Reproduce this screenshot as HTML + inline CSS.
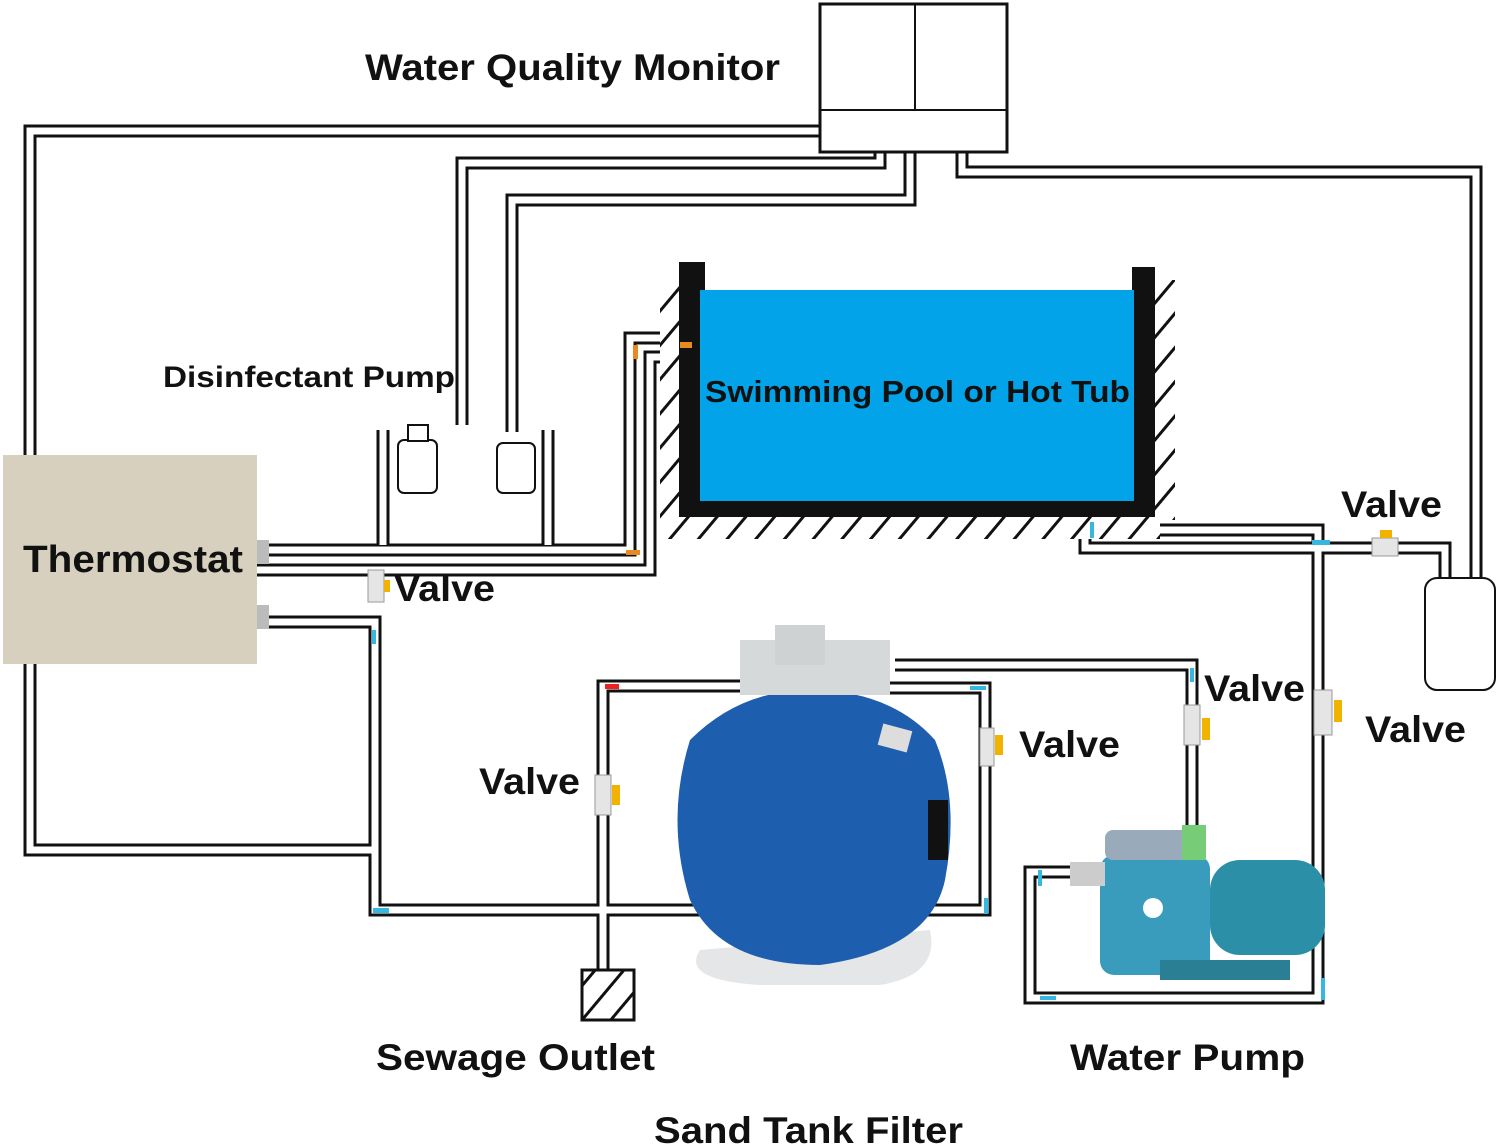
<!DOCTYPE html>
<html><head><meta charset="utf-8"><style>
html,body{margin:0;padding:0;background:#fff;}
svg{display:block}
text{font-family:"Liberation Sans",Arial,sans-serif;font-weight:bold;fill:#111}
</style></head><body>
<svg width="1499" height="1147" viewBox="0 0 1499 1147" xmlns="http://www.w3.org/2000/svg">
<defs>
<pattern id="h" width="22" height="22" patternUnits="userSpaceOnUse" patternTransform="rotate(40)">
<rect width="22" height="22" fill="#fff"/><rect width="3" height="22" fill="#111"/></pattern>
</defs>
<g fill="none" stroke-linejoin="miter">
<g stroke="#111" stroke-width="13">
<path d="M820,131 H30 V850 H375"/>
<path d="M880,152 V163 H462 V425"/>
<path d="M910,152 V200 H512 V432"/>
<path d="M962,152 V172 H1476 V578"/>
<path d="M257,550 H630 V338 H690"/>
<path d="M257,570 H650 V357 H690"/>
<path d="M257,622 H375 V910 H985 V688 H880"/>
<path d="M1085,517 V548 H1445 V578"/>
<path d="M1110,517 V530 H1318 V998 H1030 V872 H1075"/>
<path d="M1192,840 V665 H895"/>
<path d="M603,975 V686 H745"/>
<path d="M383,430 V545"/>
<path d="M548,430 V545"/>
</g>
<g stroke="#fff" stroke-width="7">
<path d="M820,131 H30 V850 H375"/>
<path d="M880,152 V163 H462 V425"/>
<path d="M910,152 V200 H512 V432"/>
<path d="M962,152 V172 H1476 V578"/>
<path d="M257,550 H630 V338 H690"/>
<path d="M257,570 H650 V357 H690"/>
<path d="M257,622 H375 V910 H985 V688 H880"/>
<path d="M1085,517 V548 H1445 V578"/>
<path d="M1110,517 V530 H1318 V998 H1030 V872 H1075"/>
<path d="M1192,840 V665 H895"/>
<path d="M603,975 V686 H745"/>
<path d="M383,430 V545"/>
<path d="M548,430 V545"/>
</g>
</g>
<!-- monitor -->
<rect x="820" y="4" width="187" height="148" fill="#fff" stroke="#111" stroke-width="3"/>
<line x1="915" y1="4" x2="915" y2="110" stroke="#111" stroke-width="2"/>
<line x1="820" y1="110" x2="1007" y2="110" stroke="#111" stroke-width="2"/>
<text x="365" y="80" font-size="37" textLength="415" lengthAdjust="spacingAndGlyphs">Water Quality Monitor</text>
<!-- pool -->
<rect x="660" y="517" width="500" height="22" fill="url(#h)"/>
<rect x="660" y="280" width="20" height="240" fill="url(#h)"/>
<rect x="1155" y="280" width="20" height="240" fill="url(#h)"/>
<rect x="679" y="262" width="26" height="255" fill="#111"/>
<rect x="1132" y="267" width="23" height="250" fill="#111"/>
<rect x="679" y="500" width="476" height="17" fill="#111"/>
<rect x="700" y="290" width="434" height="211" fill="#02a3e8"/>
<text x="705" y="402" font-size="31" textLength="425" lengthAdjust="spacingAndGlyphs">Swimming Pool or Hot Tub</text>
<!-- thermostat -->
<rect x="3" y="455" width="254" height="209" fill="#d8d0bf"/>
<text x="23" y="572" font-size="38" textLength="220" lengthAdjust="spacingAndGlyphs">Thermostat</text>
<rect x="257" y="540" width="12" height="24" fill="#bbb"/>
<rect x="257" y="605" width="12" height="24" fill="#bbb"/>
<!-- disinfectant pumps -->
<text x="163" y="387" font-size="30" textLength="292" lengthAdjust="spacingAndGlyphs">Disinfectant Pump</text>
<rect x="398" y="440" width="39" height="53" rx="6" fill="#fff" stroke="#111" stroke-width="2"/>
<rect x="408" y="425" width="20" height="16" fill="#fff" stroke="#111" stroke-width="2"/>
<rect x="497" y="443" width="38" height="50" rx="6" fill="#fff" stroke="#111" stroke-width="2"/>
<!-- tank right -->
<rect x="1425" y="578" width="70" height="112" rx="12" fill="#fff" stroke="#111" stroke-width="2"/>
<!-- filter -->
<path d="M700,950 Q680,980 760,985 L880,985 Q940,975 930,930 Z" fill="#e4e6e8"/>
<path d="M690,740 Q740,690 810,690 Q890,690 935,740 Q960,800 945,880 Q930,950 820,965 Q720,965 690,900 Q665,820 690,740 Z" fill="#1d5fae"/>
<rect x="740" y="640" width="150" height="55" fill="#d6d9d9"/>
<rect x="775" y="625" width="50" height="40" fill="#cfd2d2"/>
<rect x="880" y="727" width="30" height="22" fill="#ddd" transform="rotate(15 895 738)"/>
<rect x="928" y="800" width="20" height="60" fill="#111"/>
<!-- pump -->
<rect x="1210" y="860" width="115" height="95" rx="30" fill="#2b8fa8"/>
<rect x="1100" y="855" width="110" height="120" rx="14" fill="#3a9cbc"/>
<rect x="1105" y="830" width="95" height="30" rx="8" fill="#9ab"/>
<rect x="1070" y="862" width="35" height="24" fill="#ccc"/>
<rect x="1182" y="825" width="24" height="35" fill="#7c7"/>
<rect x="1160" y="960" width="130" height="20" fill="#2b7f95"/>
<circle cx="1153" cy="908" r="10" fill="#fff"/>
<!-- sewage -->
<rect x="582" y="970" width="52" height="50" fill="url(#h)" stroke="#111" stroke-width="3"/>
<!-- valves -->
<g fill="#e5e5e5" stroke="#999" stroke-width="1">
<rect x="368" y="570" width="16" height="32"/>
<rect x="595" y="775" width="16" height="40"/>
<rect x="980" y="728" width="14" height="38"/>
<rect x="1184" y="705" width="16" height="40"/>
<rect x="1314" y="690" width="18" height="45"/>
<rect x="1372" y="538" width="26" height="18"/>
</g>
<g fill="#f2b300">
<rect x="384" y="580" width="6" height="12"/>
<rect x="612" y="785" width="8" height="20"/>
<rect x="995" y="735" width="8" height="20"/>
<rect x="1202" y="718" width="8" height="22"/>
<rect x="1334" y="700" width="8" height="22"/>
<rect x="1380" y="530" width="12" height="8"/>
</g>
<g fill="#36b7e0">
<rect x="1312" y="540" width="18" height="5"/><rect x="1090" y="522" width="4" height="16"/>
<rect x="372" y="630" width="4" height="14"/><rect x="373" y="908" width="16" height="5"/>
<rect x="970" y="686" width="16" height="4"/><rect x="984" y="898" width="4" height="16"/>
<rect x="1038" y="870" width="4" height="16"/><rect x="1040" y="996" width="16" height="4"/>
<rect x="1321" y="978" width="4" height="22"/><rect x="1190" y="668" width="4" height="14"/>
</g>
<rect x="605" y="684" width="14" height="5" fill="#e22"/>
<g fill="#e88a20"><rect x="633" y="345" width="5" height="14"/><rect x="626" y="550" width="14" height="5"/><rect x="680" y="342" width="12" height="6"/></g>
<!-- labels -->
<g font-size="37">
<text x="394" y="601" textLength="101" lengthAdjust="spacingAndGlyphs">Valve</text>
<text x="479" y="794" textLength="101" lengthAdjust="spacingAndGlyphs">Valve</text>
<text x="1019" y="757" textLength="101" lengthAdjust="spacingAndGlyphs">Valve</text>
<text x="1204" y="701" textLength="101" lengthAdjust="spacingAndGlyphs">Valve</text>
<text x="1341" y="517" textLength="101" lengthAdjust="spacingAndGlyphs">Valve</text>
<text x="1365" y="742" textLength="101" lengthAdjust="spacingAndGlyphs">Valve</text>
<text x="376" y="1070" textLength="279" lengthAdjust="spacingAndGlyphs">Sewage Outlet</text>
<text x="1070" y="1070" textLength="235" lengthAdjust="spacingAndGlyphs">Water Pump</text>
<text x="654" y="1143" textLength="309" lengthAdjust="spacingAndGlyphs">Sand Tank Filter</text>
</g>
</svg>
</body></html>
